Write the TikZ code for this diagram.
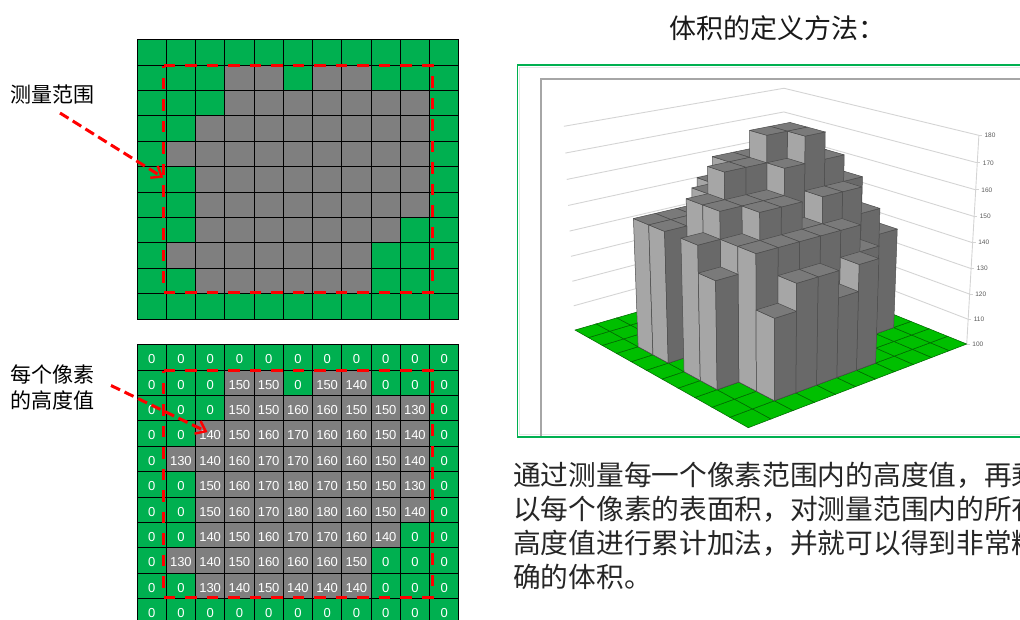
\documentclass[tikz,border=0pt]{standalone}
\usepackage{fontspec}
\setmainfont{Noto Sans CJK SC}
\newfontfamily\digitfont{Liberation Sans}
\usetikzlibrary{arrows.meta}
\definecolor{pixgreen}{HTML}{00B050}
\definecolor{pixgray}{HTML}{7F7F7F}
\definecolor{floorgreen}{HTML}{00BF00}
\definecolor{markred}{HTML}{FF0000}
\tikzset{every picture/.style = {x=1pt, y=-1pt}}
\tikzset{pixel/.style = {draw=black, line width=0.8pt, minimum width=29.25pt, minimum height=25.4pt,
  inner sep=0, text=white, font=\digitfont\fontsize{13}{13}\selectfont, text height=13pt, text depth=0pt}}
\tikzset{rangebox/.style = {draw=markred, line width=2.5pt, dash pattern=on 11.5pt off 10pt}}
\tikzset{markarrow/.style = {draw=markred, line width=3pt, dash pattern=on 10pt off 5pt, shorten >=3pt,
  -{Straight Barb[length=9pt, width=14pt, line width=2.4pt]}}}
\tikzset{sidetext/.style = {anchor=west, inner sep=0, align=left, font=\fontsize{21}{26}\selectfont}}
\tikzset{walline/.style = {draw=black!17, line width=0.9pt}}
\tikzset{floorcell/.style = {fill=floorgreen, draw=black!45!floorgreen, line width=0.55pt}}
\tikzset{barleft/.style = {fill=black!35, draw=black!70, line width=0.5pt, line join=round}}
\tikzset{barright/.style = {fill=black!59, draw=black!70, line width=0.5pt, line join=round}}
\tikzset{bartop/.style = {fill=black!52, draw=black!70, line width=0.5pt, line join=round}}
\tikzset{ticklabel/.style = {anchor=west, inner sep=0, text=black!65, font=\digitfont\fontsize{6.5}{7}\selectfont}}
\tikzset{declare function = {
  projx(\pa,\pb,\pz) = (372.9*\pa/11-63.4*\pb/11+748.3-50.5*\pz)/(0.1598*\pa/11+0.1911*\pb/11+1-0.066*\pz);
  projy(\pa,\pb,\pz) = (-28.7*\pa/11-34.6*\pb/11+427.7-251*\pz)/(0.1598*\pa/11+0.1911*\pb/11+1-0.066*\pz);
}}
\newcommand{\chartpt}[4]{\coordinate (#1) at ({projx(#2,#3,#4)},{projy(#2,#3,#4)});}
\def\heightmap{{{0,0,0,0,0,0,0,0,0,0,0},
  {0,0,0,150,150,0,150,140,0,0,0},
  {0,0,0,150,150,160,160,150,150,130,0},
  {0,0,140,150,160,170,160,160,150,140,0},
  {0,130,140,160,170,170,160,160,150,140,0},
  {0,0,150,160,170,180,170,150,150,130,0},
  {0,0,150,160,170,180,180,160,150,140,0},
  {0,0,140,150,160,170,170,160,140,0,0},
  {0,130,140,150,160,160,160,150,0,0,0},
  {0,0,130,140,150,140,140,140,0,0,0},
  {0,0,0,0,0,0,0,0,0,0,0}}}

\begin{document}
\begin{tikzpicture}
  \path[use as bounding box, clip] (0,0) rectangle (1020,619);

  % the two pixel grids
  \foreach \r in {0,...,10} {
    \foreach \c in {0,...,10} {
      \pgfmathtruncatemacro{\val}{\heightmap[\r][\c]}
      \ifnum\val=0 \def\cellcol{pixgreen}\else \def\cellcol{pixgray}\fi
      \node[pixel, fill=\cellcol] (up-\r-\c) at ({137+29.25*(\c+0.5)}, {39.5+25.4*(\r+0.5)}) {};
      \node[pixel, fill=\cellcol] (dn-\r-\c) at ({137+29.25*(\c+0.5)}, {344.5+25.4*(\r+0.5)}) {\val};
    }
  }
  \foreach \dy in {0,305} {
    \draw[rangebox] (163.5, 65.7+\dy) -- (432.3, 65.7+\dy)
      -- (432.3, 292.3+\dy) -- (163.5, 292.3+\dy) -- cycle;
  }

  \node[sidetext] (lblrange) at (10.5, 95) {测量范围};
  \node[sidetext] (lblheight) at (10.5, 387) {每个像素\\的高度值};
  \coordinate (rangefrom) at (60, 113);
  \coordinate (heightfrom) at (111, 385.5);
  \draw[markarrow] (rangefrom) -- (up-5-1.west);
  \draw[markarrow] (heightfrom) -- (dn-3-2.center);

  \node[anchor=west, inner sep=0, font=\fontsize{27}{27}\selectfont, text=black!90] (title) at (669, 28) {体积的定义方法：};

  % chart frame
  \draw[draw=black!10, line width=0.8pt] (1100, 67.2) -- (519.7, 67.2) -- (519.7, 434.8) -- (1100, 434.8);
  \draw[draw=pixgreen, line width=1.2pt] (1100, 65) -- (517.5, 65) -- (517.5, 437) -- (1100, 437);
  \draw[draw=black!35, line width=1.4pt] (1100, 79) -- (541, 79) -- (541, 436);

  % walls
  \foreach \lev in {1,...,8} {
    \pgfmathsetmacro{\zz}{\lev/8}
    \chartpt{wl}{0}{11}{\zz}
    \chartpt{wb}{11}{11}{\zz}
    \chartpt{wr}{11}{0}{\zz}
    \draw[walline] (wl) -- (wb) -- (wr);
  }
  \chartpt{axbot}{11}{0}{0}
  \chartpt{axtop}{11}{0}{1}
  \draw[walline] (axbot) -- (axtop);
  \foreach \lev [evaluate=\lev as \zz using \lev/8, evaluate=\lev as \tick using int(100+10*\lev)] in {0,...,8} {
    \chartpt{tk}{11}{0}{\zz}
    \draw[walline] (tk) -- ++(3,0);
    \node[ticklabel] (tick\tick) at ([xshift=5.5pt]tk) {\tick};
  }

  % floor
  \foreach \a in {0,...,10} {
    \foreach \b in {0,...,10} {
      \pgfmathtruncatemacro{\ax}{\a+1}
      \pgfmathtruncatemacro{\bx}{\b+1}
      \chartpt{f0}{\a}{\b}{0}
      \chartpt{l0}{\a}{\bx}{0}
      \chartpt{r0}{\ax}{\b}{0}
      \chartpt{k0}{\ax}{\bx}{0}
      \draw[floorcell] (f0) -- (r0) -- (k0) -- (l0) -- cycle;
    }
  }

  % bars, back to front
  \foreach \a in {10,9,...,0} {
    \foreach \b in {10,9,...,0} {
      \pgfmathtruncatemacro{\col}{10-\b}
      \pgfmathtruncatemacro{\val}{\heightmap[\a][\col]}
      \ifnum\val>0
        \pgfmathtruncatemacro{\ax}{\a+1}
        \pgfmathtruncatemacro{\bx}{\b+1}
        \pgfmathsetmacro{\zz}{(\val-100)/80}
        \chartpt{f0}{\a}{\b}{0}
        \chartpt{l0}{\a}{\bx}{0}
        \chartpt{r0}{\ax}{\b}{0}
        \chartpt{f1}{\a}{\b}{\zz}
        \chartpt{l1}{\a}{\bx}{\zz}
        \chartpt{r1}{\ax}{\b}{\zz}
        \chartpt{k1}{\ax}{\bx}{\zz}
        \draw[barleft] (f0) -- (l0) -- (l1) -- (f1) -- cycle;
        \draw[barright] (f0) -- (r0) -- (r1) -- (f1) -- cycle;
        \draw[bartop] (f1) -- (r1) -- (k1) -- (l1) -- cycle;
      \fi
    }
  }

  \node[anchor=west, inner sep=0, align=left, font=\fontsize{27.7}{34}\selectfont, text=black!85] (bodytext) at (513, 526)
    {通过测量每一个像素范围内的高度值，再乘\\以每个像素的表面积，对测量范围内的所有\\高度值进行累计加法，并就可以得到非常精\\确的体积。};
\end{tikzpicture}
\end{document}
